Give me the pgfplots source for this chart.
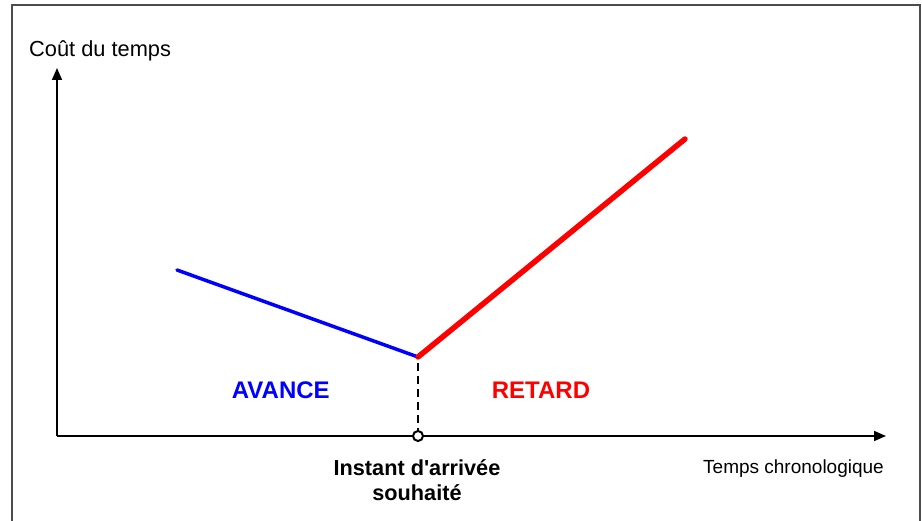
\documentclass[border=0pt]{standalone}
\usepackage{pgfplots}
\pgfplotsset{compat=1.18}
\usepackage{fontspec}
\setmainfont{Liberation Sans}
\usetikzlibrary{arrows.meta}
\definecolor{pureblue}{RGB}{0,0,255}
\definecolor{purered}{RGB}{255,0,0}
\begin{document}
\begin{tikzpicture}[x=1pt,y=1pt]
\useasboundingbox (0,0) rectangle (922,520);
\draw[line width=1.3pt, black!70] (12,-3) -- (12,515) -- (920,515) -- (920,-3);
\begin{axis}[
  at={(57pt,84pt)}, anchor=south west,
  scale only axis, width=829pt, height=368pt,
  xmin=57, xmax=886, ymin=84, ymax=452,
  axis lines=left,
  axis line style={line width=1.6pt, black, -{Triangle[length=12pt,width=10pt]}},
  xtick=\empty, ytick=\empty,
  clip=false,
]
\addplot[pureblue, line width=3.5pt, line cap=round] coordinates {(177,250) (418,163)};
\addplot[purered, line width=5.5pt, line cap=round] coordinates {(418,163) (685,381)};
\addplot[black, line width=2.4pt, dash pattern=on 8pt off 5pt] coordinates {(418,84) (418,163)};
\addplot[only marks, mark=*, mark size=5pt, mark options={fill=white, draw=black, line width=2pt}] coordinates {(418,84)};
\end{axis}
\node[anchor=base west, inner sep=0pt] at (29,463.3) {\fontsize{21.8}{26}\selectfont Coût du temps};
\node[anchor=base west, inner sep=0pt] at (703,46.7) {\fontsize{19}{23}\selectfont Temps chronologique};
\node[anchor=base west, inner sep=0pt, text=pureblue] at (231.7,121.7) {\fontsize{24}{28}\selectfont\bfseries AVANCE};
\node[anchor=base west, inner sep=0pt, text=purered] at (491.7,121.7) {\fontsize{24}{28}\selectfont\bfseries RETARD};
\node[anchor=base, inner sep=0pt] at (417,44) {\fontsize{21.7}{26}\selectfont\bfseries Instant d\textquotesingle arrivée};
\node[anchor=base, inner sep=0pt] at (417,19.3) {\fontsize{21.7}{26}\selectfont\bfseries souhaité};
\end{tikzpicture}
\end{document}
